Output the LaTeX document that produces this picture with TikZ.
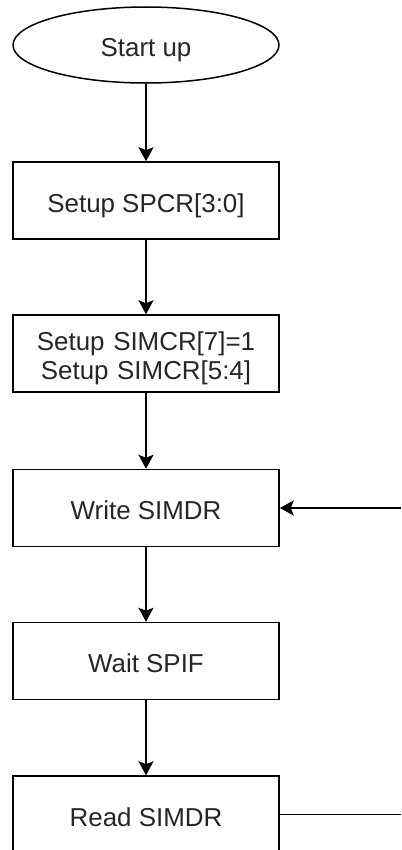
\documentclass[tikz,border=0pt]{standalone}
\usepackage{fontspec}
\setmainfont{Liberation Sans}
\usetikzlibrary{shapes.geometric,arrows.meta}
\begin{document}
\begin{tikzpicture}[x=1bp,y=-1bp,
  txt/.style={font=\fontsize{26}{29}\selectfont, text=black!85, align=center, text height=23.5bp, text depth=0bp},
  box/.style={txt, draw, line width=1.5bp, minimum width=266bp, minimum height=77bp, inner sep=0pt},
  twoline/.style={text width=260bp, text height=22bp, text depth=28.4bp},
  startbox/.style={txt, ellipse, draw, line width=1.5bp, minimum width=266bp, minimum height=76bp, inner sep=0pt},
  arr/.style={line width=1.5bp, -{Stealth[length=14bp,width=15bp,inset=3bp]}},
  plain/.style={line width=1.5bp}]
\useasboundingbox (0,0) rectangle (401,850);
\fill[white] (0,0) rectangle (401,850);
\node[startbox] (start) at (146,45) {Start up};
\node[box] (b1) at (146,200.5) {Setup SPCR[3:0]};
\node[box, twoline] (b2) at (146,353.5) {Setup SIMCR[7]=1\\Setup SIMCR[5:4]};
\node[box] (b3) at (146,508) {Write SIMDR};
\node[box] (b4) at (146,661) {Wait SPIF};
\node[box] (b5) at (146,814.5) {Read SIMDR};
\draw[arr] (start) -- (b1);
\draw[arr] (b1) -- (b2);
\draw[arr] (b2) -- (b3);
\draw[arr] (b3) -- (b4);
\draw[arr] (b4) -- (b5);
\coordinate (rin) at (401,508);
\coordinate (rout) at (401,814.5);
\draw[arr] (rin) -- (rin -| b3.east);
\draw[plain] (b5.east) -- (rout);
\end{tikzpicture}
\end{document}
